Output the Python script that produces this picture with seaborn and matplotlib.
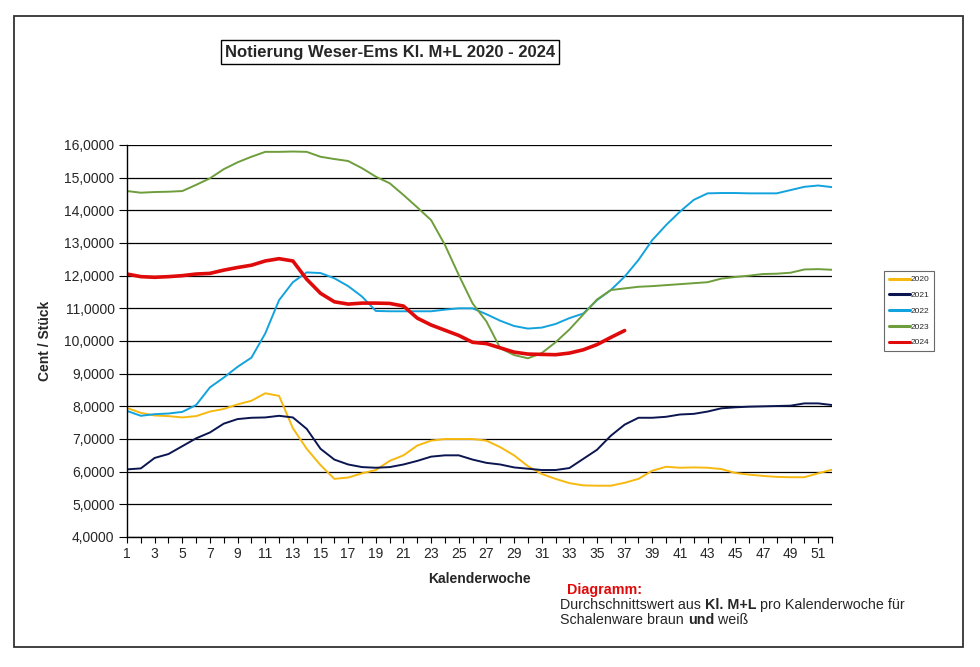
import numpy as np
import pandas as pd
import matplotlib
matplotlib.use("Agg")
import matplotlib.pyplot as plt
from matplotlib.patches import Rectangle
from matplotlib.ticker import FuncFormatter, MultipleLocator
import seaborn as sns

# Daten: Notierung je Kalenderwoche
wochen = list(range(1, 53))

werte_2020 = [7.95, 7.80, 7.72, 7.70, 7.66, 7.70, 7.84, 7.92, 8.06, 8.17,
              8.40, 8.32, 7.33, 6.70, 6.20, 5.78, 5.82, 5.95, 6.05, 6.33,
              6.50, 6.80, 6.95, 7.00, 7.00, 7.00, 6.95, 6.75, 6.50, 6.17,
              5.93, 5.78, 5.65, 5.58, 5.57, 5.57, 5.66, 5.78, 6.03, 6.15,
              6.12, 6.13, 6.12, 6.08, 5.96, 5.91, 5.87, 5.84, 5.83, 5.83,
              5.95, 6.06]

werte_2021 = [6.07, 6.10, 6.42, 6.54, 6.78, 7.02, 7.20, 7.47, 7.61, 7.65,
              7.66, 7.71, 7.66, 7.31, 6.70, 6.37, 6.22, 6.14, 6.12, 6.14,
              6.22, 6.33, 6.46, 6.50, 6.50, 6.37, 6.27, 6.22, 6.13, 6.09,
              6.05, 6.05, 6.11, 6.39, 6.67, 7.10, 7.44, 7.65, 7.65, 7.68,
              7.75, 7.77, 7.84, 7.94, 7.97, 7.99, 8.00, 8.01, 8.02, 8.09,
              8.09, 8.04]

werte_2022 = [7.86, 7.71, 7.76, 7.78, 7.83, 8.04, 8.58, 8.88, 9.21, 9.49,
              10.23, 11.25, 11.80, 12.10, 12.08, 11.92, 11.68, 11.36, 10.92, 10.91,
              10.91, 10.91, 10.91, 10.96, 11.00, 11.00, 10.82, 10.62, 10.46, 10.38,
              10.41, 10.52, 10.70, 10.84, 11.25, 11.56, 11.97, 12.48, 13.09, 13.55,
              13.96, 14.32, 14.52, 14.53, 14.53, 14.52, 14.52, 14.52, 14.62, 14.72,
              14.76, 14.71]

werte_2023 = [14.59, 14.54, 14.56, 14.57, 14.59, 14.78, 14.98, 15.26, 15.47, 15.64,
              15.79, 15.79, 15.80, 15.79, 15.64, 15.57, 15.51, 15.29, 15.03, 14.83,
              14.47, 14.09, 13.70, 12.94, 12.02, 11.15, 10.60, 9.78, 9.57, 9.47,
              9.63, 9.96, 10.35, 10.81, 11.27, 11.56, 11.61, 11.66, 11.68, 11.71,
              11.74, 11.77, 11.80, 11.91, 11.96, 12.00, 12.05, 12.06, 12.09, 12.19,
              12.20, 12.18]

werte_2024 = [12.05, 11.97, 11.95, 11.97, 12.00, 12.05, 12.07, 12.17, 12.25, 12.32,
              12.45, 12.52, 12.45, 11.89, 11.46, 11.20, 11.13, 11.16, 11.16, 11.15,
              11.07, 10.70, 10.49, 10.33, 10.17, 9.96, 9.92, 9.79, 9.66, 9.60,
              9.59, 9.58, 9.63, 9.73, 9.89, 10.11, 10.32]

jahre = ["2020", "2021", "2022", "2023", "2024"]
farben = {"2020": "#F7B90F", "2021": "#0B1550", "2022": "#12A3DE",
          "2023": "#6E9E3C", "2024": "#E00A0A"}

reihen = [werte_2020, werte_2021, werte_2022, werte_2023, werte_2024]
frames = []
for jahr, werte in zip(jahre, reihen):
    frames.append(pd.DataFrame({"woche": wochen[:len(werte)], "wert": werte, "jahr": jahr}))
df = pd.concat(frames, ignore_index=True)

sns.set_style("white")
plt.rcParams["font.family"] = ["Liberation Sans", "DejaVu Sans"]

fig = plt.figure(figsize=(9.8, 6.67), dpi=100)
ax = fig.add_axes([127 / 980, 1 - 537 / 667, (832 - 127) / 980, (537 - 145) / 667])

sns.lineplot(data=df, x="woche", y="wert", hue="jahr", palette=farben,
             hue_order=jahre, ax=ax, legend=False, linewidth=1.4)
# 2024 dicker
for line, jahr in zip(ax.get_lines(), jahre):
    if jahr == "2024":
        line.set_linewidth(2.6)

ax.set_xlim(1, 52)
ax.set_ylim(4, 16)
ax.yaxis.set_major_locator(MultipleLocator(1))
ax.yaxis.set_major_formatter(FuncFormatter(lambda v, p: f"{v:.4f}".replace(".", ",")))
ax.set_xticks(wochen)
ax.set_xticklabels([str(w) if w % 2 == 1 else "" for w in wochen])
ax.grid(axis="y", color="black", linewidth=0.9)
ax.grid(axis="x", visible=False)
for s in ["top", "right"]:
    ax.spines[s].set_visible(False)
for s in ["left", "bottom"]:
    ax.spines[s].set_color("black")
    ax.spines[s].set_linewidth(1.0)
ax.tick_params(axis="x", direction="out", length=4, width=0.8, color="black",
               labelsize=10, pad=3, bottom=True)
ax.tick_params(axis="y", direction="out", length=6, width=0.8, color="black",
               labelsize=10, pad=3, left=True)
ax.set_xlabel("Kalenderwoche", fontsize=10, fontweight="bold", labelpad=8)
ax.set_ylabel("Cent / Stück", fontsize=10, fontweight="bold", labelpad=9)

# Legende
handles = [plt.Line2D([], [], color=farben[j], linewidth=2.2) for j in jahre]
leg = fig.legend(handles, jahre, loc="upper left", bbox_to_anchor=(884 / 980, 1 - 271 / 667),
                 fontsize=6, handlelength=2.6, handletextpad=0.1, labelspacing=0.95,
                 frameon=True, fancybox=False, edgecolor="#444444", borderpad=0.55,
                 borderaxespad=0)
leg.get_frame().set_linewidth(0.8)

# Titel mit Rahmen
fig.text(390 / 980, 1 - 52 / 667, "Notierung Weser-Ems Kl. M+L 2020 - 2024",
         ha="center", va="center", fontsize=12, fontweight="bold",
         bbox=dict(boxstyle="square,pad=0.25", facecolor="white", edgecolor="black", linewidth=1.0))

# Erläuterung
fig.text(567 / 980, 1 - 590 / 667, "Diagramm:", color="#E00A0A", fontsize=10.3,
         fontweight="bold", ha="left", va="center")

teile1 = [("Durchschnittswert aus ", "normal"), ("Kl. M+L", "bold"),
          (" pro Kalenderwoche für", "normal")]
teile2 = [("Schalenware braun ", "normal"), ("und", "bold"), (" weiß", "normal")]


def zeile(teile, x0, y0):
    last = fig.text(x0, y0, teile[0][0], fontsize=10.3, fontweight=teile[0][1],
                    ha="left", va="bottom")
    for text, gewicht in teile[1:]:
        last = ax.annotate(text, xy=(1, 0), xycoords=last, fontsize=10.3,
                           fontweight=gewicht, ha="left", va="bottom",
                           annotation_clip=False)


zeile(teile1, 560 / 980, 1 - 612 / 667)
zeile(teile2, 560 / 980, 1 - 627 / 667)

# äußerer Rahmen
fig.patches.append(Rectangle((14 / 980, 1 - 647 / 667), (963 - 14) / 980, (647 - 16) / 667,
                             transform=fig.transFigure, fill=False, edgecolor="#333333",
                             linewidth=1.3))

fig.savefig("out.png", dpi=100)
